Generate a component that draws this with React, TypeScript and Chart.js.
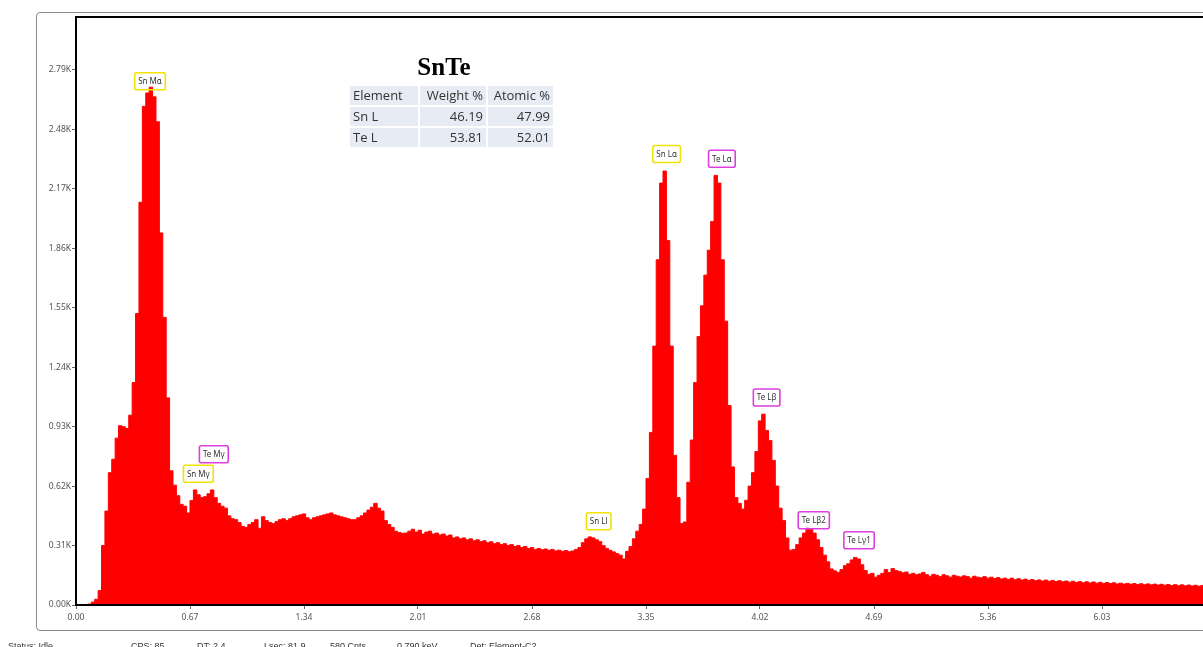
import React, { useEffect, useRef } from "react";
import { Chart, registerables } from "chart.js";

Chart.register(...registerables);

// ---------------- data ----------------
const channelWidthKeV = 0.02;

const counts = [
  0, 0, 0, 0, 5, 15, 30, 75, 310, 490,
  690, 760, 870, 935, 930, 920, 990, 1160, 1520, 2100,
  2600, 2670, 2700, 2650, 2520, 1940, 1500, 1080, 700, 625,
  570, 525, 515, 480, 545, 600, 575, 560, 565, 580,
  600, 560, 530, 515, 505, 465, 450, 445, 430, 410,
  405, 420, 430, 445, 400, 460, 440, 430, 425, 435,
  445, 450, 440, 450, 460, 465, 470, 475, 455, 445,
  455, 460, 465, 470, 475, 480, 470, 465, 460, 455,
  450, 445, 445, 455, 465, 480, 495, 510, 530, 505,
  490, 440, 420, 405, 385, 378, 374, 375, 385, 395,
  380, 390, 370, 380, 385, 370, 375, 365, 370, 360,
  365, 350, 355, 345, 350, 340, 345, 335, 340, 330,
  335, 325, 330, 320, 325, 315, 320, 310, 315, 305,
  310, 300, 305, 295, 300, 290, 295, 288, 292, 285,
  290, 282, 286, 280, 284, 278, 282, 290, 300, 325,
  345, 355, 350, 340, 330, 310, 295, 285, 277, 268,
  260, 240, 280, 305, 345, 385, 420, 500, 660, 900,
  1350, 1800, 2200, 2263, 1900, 1350, 780, 560, 425, 433,
  640, 860, 1160, 1400, 1560, 1720, 1850, 2000, 2240, 2200,
  1800, 1480, 1040, 720, 560, 530, 500, 546, 620, 690,
  800, 960, 995, 910, 858, 754, 620, 505, 440, 350,
  286, 290, 315, 350, 375, 400, 395, 375, 340, 300,
  260, 225, 188, 178, 170, 185, 205, 215, 235, 248,
  240, 210, 180, 160, 165, 145, 155, 165, 185, 170,
  190, 180, 175, 168, 172, 160, 165, 158, 162, 170,
  158, 150, 160, 155, 148, 158, 152, 145, 155, 150,
  146, 152, 148, 140, 150, 145, 142, 148, 140, 145,
  138, 143, 136, 140, 134, 140, 132, 137, 130, 135,
  128, 133, 127, 131, 125, 130, 124, 128, 122, 127,
  121, 125, 119, 124, 118, 122, 116, 121, 115, 120,
  114, 118, 113, 117, 112, 116, 110, 114, 109, 113,
  108, 112, 107, 111, 106, 110, 105, 109, 104, 108,
  103, 107, 102, 106, 101, 105, 100, 104, 99, 103,
  98, 102, 97, 100, 96, 98,
];

const xTickValues = [0, 0.67, 1.34, 2.01, 2.68, 3.35, 4.02, 4.69, 5.36, 6.03, 6.7];
const yTickValues = [0, 310, 620, 930, 1240, 1550, 1860, 2170, 2480, 2790];
const xMaxKeV = 6.7;
const yMaxCounts = 3066;

const peakNames = ["Sn Mα", "Sn Mγ", "Te Mγ", "Sn Ll", "Sn Lα", "Te Lα", "Te Lβ", "Te Lβ2", "Te Lγ1"];
const peakElements = ["Sn", "Sn", "Te", "Sn", "Sn", "Te", "Te", "Te", "Te"];
const peakEnergies = [0.435, 0.719, 0.81, 3.072, 3.471, 3.796, 4.059, 4.336, 4.602];
const peakLabelCounts = [2731, 684, 786, 437, 2352, 2327, 1082, 442, 338];

const sampleTitle = "SnTe";
const tableHeader = ["Element", "Weight %", "Atomic %"];
const tableElements = ["Sn L", "Te L"];
const weightPct = ["46.19", "53.81"];
const atomicPct = ["47.99", "52.01"];

const statusItems = ["Status: Idle", "CPS: 85", "DT: 2.4", "Lsec: 81.9", "580 Cnts", "0.790 keV", "Det: Element-C2"];

// ---------------- styles ----------------
const CANVAS_W = 1262;
const CANVAS_H = 647;
const PLOT_RIGHT = 1216;
const elementColors: Record<string, string> = { Sn: "#f2e400", Te: "#dd3fe0" };
const statusX = [8, 131, 197, 264, 330, 397, 470];

export default function App() {
  const canvasRef = useRef<HTMLCanvasElement | null>(null);

  useEffect(() => {
    const canvas = canvasRef.current;
    if (!canvas) return;

    const framePlugin = {
      id: "plotFrame",
      afterDatasetsDraw(chart: any) {
        const { ctx, chartArea } = chart;
        ctx.save();
        ctx.strokeStyle = "#000";
        ctx.lineWidth = 2;
        ctx.strokeRect(chartArea.left, chartArea.top, chartArea.right - chartArea.left, chartArea.bottom - chartArea.top);
        ctx.restore();
      },
    };

    const peakLabelPlugin = {
      id: "peakLabels",
      afterDraw(chart: any) {
        const { ctx } = chart;
        const xs = chart.scales.x;
        const ys = chart.scales.y;
        ctx.save();
        ctx.font = "8px 'Noto Sans'";
        ctx.textAlign = "center";
        ctx.textBaseline = "middle";
        peakNames.forEach((name, i) => {
          const cx = xs.getPixelForValue(peakEnergies[i]);
          const cy = ys.getPixelForValue(peakLabelCounts[i]);
          const w = ctx.measureText(name).width + 7;
          const h = 17;
          ctx.strokeStyle = elementColors[peakElements[i]];
          ctx.lineWidth = 1.6;
          ctx.beginPath();
          (ctx as any).roundRect
            ? (ctx as any).roundRect(cx - w / 2, cy - h / 2, w, h, 2)
            : ctx.rect(cx - w / 2, cy - h / 2, w, h);
          ctx.stroke();
          ctx.fillStyle = "#333";
          ctx.fillText(name, cx, cy + 0.5);
        });
        ctx.restore();
      },
    };

    const chart = new Chart(canvas, {
      type: "line",
      data: {
        datasets: [
          {
            data: counts.map((c, i) => ({ x: i * channelWidthKeV, y: c })),
            stepped: "middle",
            fill: "origin",
            backgroundColor: "#ff0000",
            borderColor: "#ff0000",
            borderWidth: 1,
            pointRadius: 0,
          } as any,
        ],
      },
      options: {
        responsive: false,
        animation: false,
        layout: { padding: { left: 0, top: 17, right: CANVAS_W - PLOT_RIGHT, bottom: 0 } },
        plugins: { legend: { display: false }, tooltip: { enabled: false } },
        scales: {
          x: {
            type: "linear",
            min: 0,
            max: xMaxKeV,
            afterBuildTicks: (s: any) => {
              s.ticks = xTickValues.map((v) => ({ value: v }));
            },
            afterFit: (s: any) => {
              s.height = CANVAS_H - 605;
            },
            ticks: {
              callback: (v: any) => Number(v).toFixed(2),
              font: { family: "'Noto Sans'", size: 8.5 },
              color: "#555",
              padding: 3,
              maxRotation: 0,
              autoSkip: false,
            },
            grid: { drawOnChartArea: false, tickLength: 4, color: "#666" },
            border: { display: false },
          },
          y: {
            min: 0,
            max: yMaxCounts,
            afterBuildTicks: (s: any) => {
              s.ticks = yTickValues.map((v) => ({ value: v }));
            },
            afterFit: (s: any) => {
              s.width = 76;
            },
            ticks: {
              callback: (v: any) => (Number(v) / 1000).toFixed(2) + "K",
              font: { family: "'Noto Sans'", size: 8.5 },
              color: "#555",
              padding: 1,
            },
            grid: { drawOnChartArea: false, tickLength: 4, color: "#666" },
            border: { display: false },
          },
        },
      } as any,
      plugins: [framePlugin, peakLabelPlugin],
    });

    return () => chart.destroy();
  }, []);

  const cellBase: React.CSSProperties = {
    background: "#e7ebf4",
    height: 19,
    lineHeight: "19px",
    padding: "0 3px",
    fontFamily: "'Open Sans'",
    fontSize: 13,
    color: "#333",
    whiteSpace: "nowrap",
    boxSizing: "border-box",
  };

  return (
    <div style={{ position: "fixed", left: 0, top: 0, width: 1203, height: 647, overflow: "hidden", background: "#fff" }}>
      <div
        style={{
          position: "absolute",
          left: 36,
          top: 12,
          width: 1260,
          height: 619,
          border: "1.5px solid #8a8a8a",
          borderRadius: 4,
          boxSizing: "border-box",
        }}
      />
      <canvas
        ref={canvasRef}
        width={CANVAS_W}
        height={CANVAS_H}
        style={{ position: "absolute", left: 0, top: 0, width: CANVAS_W, height: CANVAS_H }}
      />
      <div
        style={{
          position: "absolute",
          left: 329,
          top: 54,
          width: 230,
          textAlign: "center",
          fontFamily: "'Liberation Serif'",
          fontWeight: "bold",
          fontSize: 25,
          lineHeight: "25px",
          color: "#000",
        }}
      >
        {sampleTitle}
      </div>
      <div
        style={{
          position: "absolute",
          left: 350,
          top: 86,
          display: "grid",
          gridTemplateColumns: "68px 66px 65px",
          gap: 2,
        }}
      >
        {tableHeader.map((h) => (
          <div key={h} style={{ ...cellBase, textAlign: h === "Element" ? "left" : "right" }}>
            {h}
          </div>
        ))}
        {tableElements.map((el, i) => (
          <React.Fragment key={el}>
            <div style={{ ...cellBase, textAlign: "left" }}>{el}</div>
            <div style={{ ...cellBase, textAlign: "right" }}>{weightPct[i]}</div>
            <div style={{ ...cellBase, textAlign: "right" }}>{atomicPct[i]}</div>
          </React.Fragment>
        ))}
      </div>
      {statusItems.map((s, i) => (
        <div
          key={s}
          style={{
            position: "absolute",
            left: statusX[i],
            top: 641,
            fontFamily: "'Liberation Sans'",
            fontSize: 9,
            lineHeight: "10px",
            color: "#333",
            whiteSpace: "nowrap",
          }}
        >
          {s}
        </div>
      ))}
    </div>
  );
}
